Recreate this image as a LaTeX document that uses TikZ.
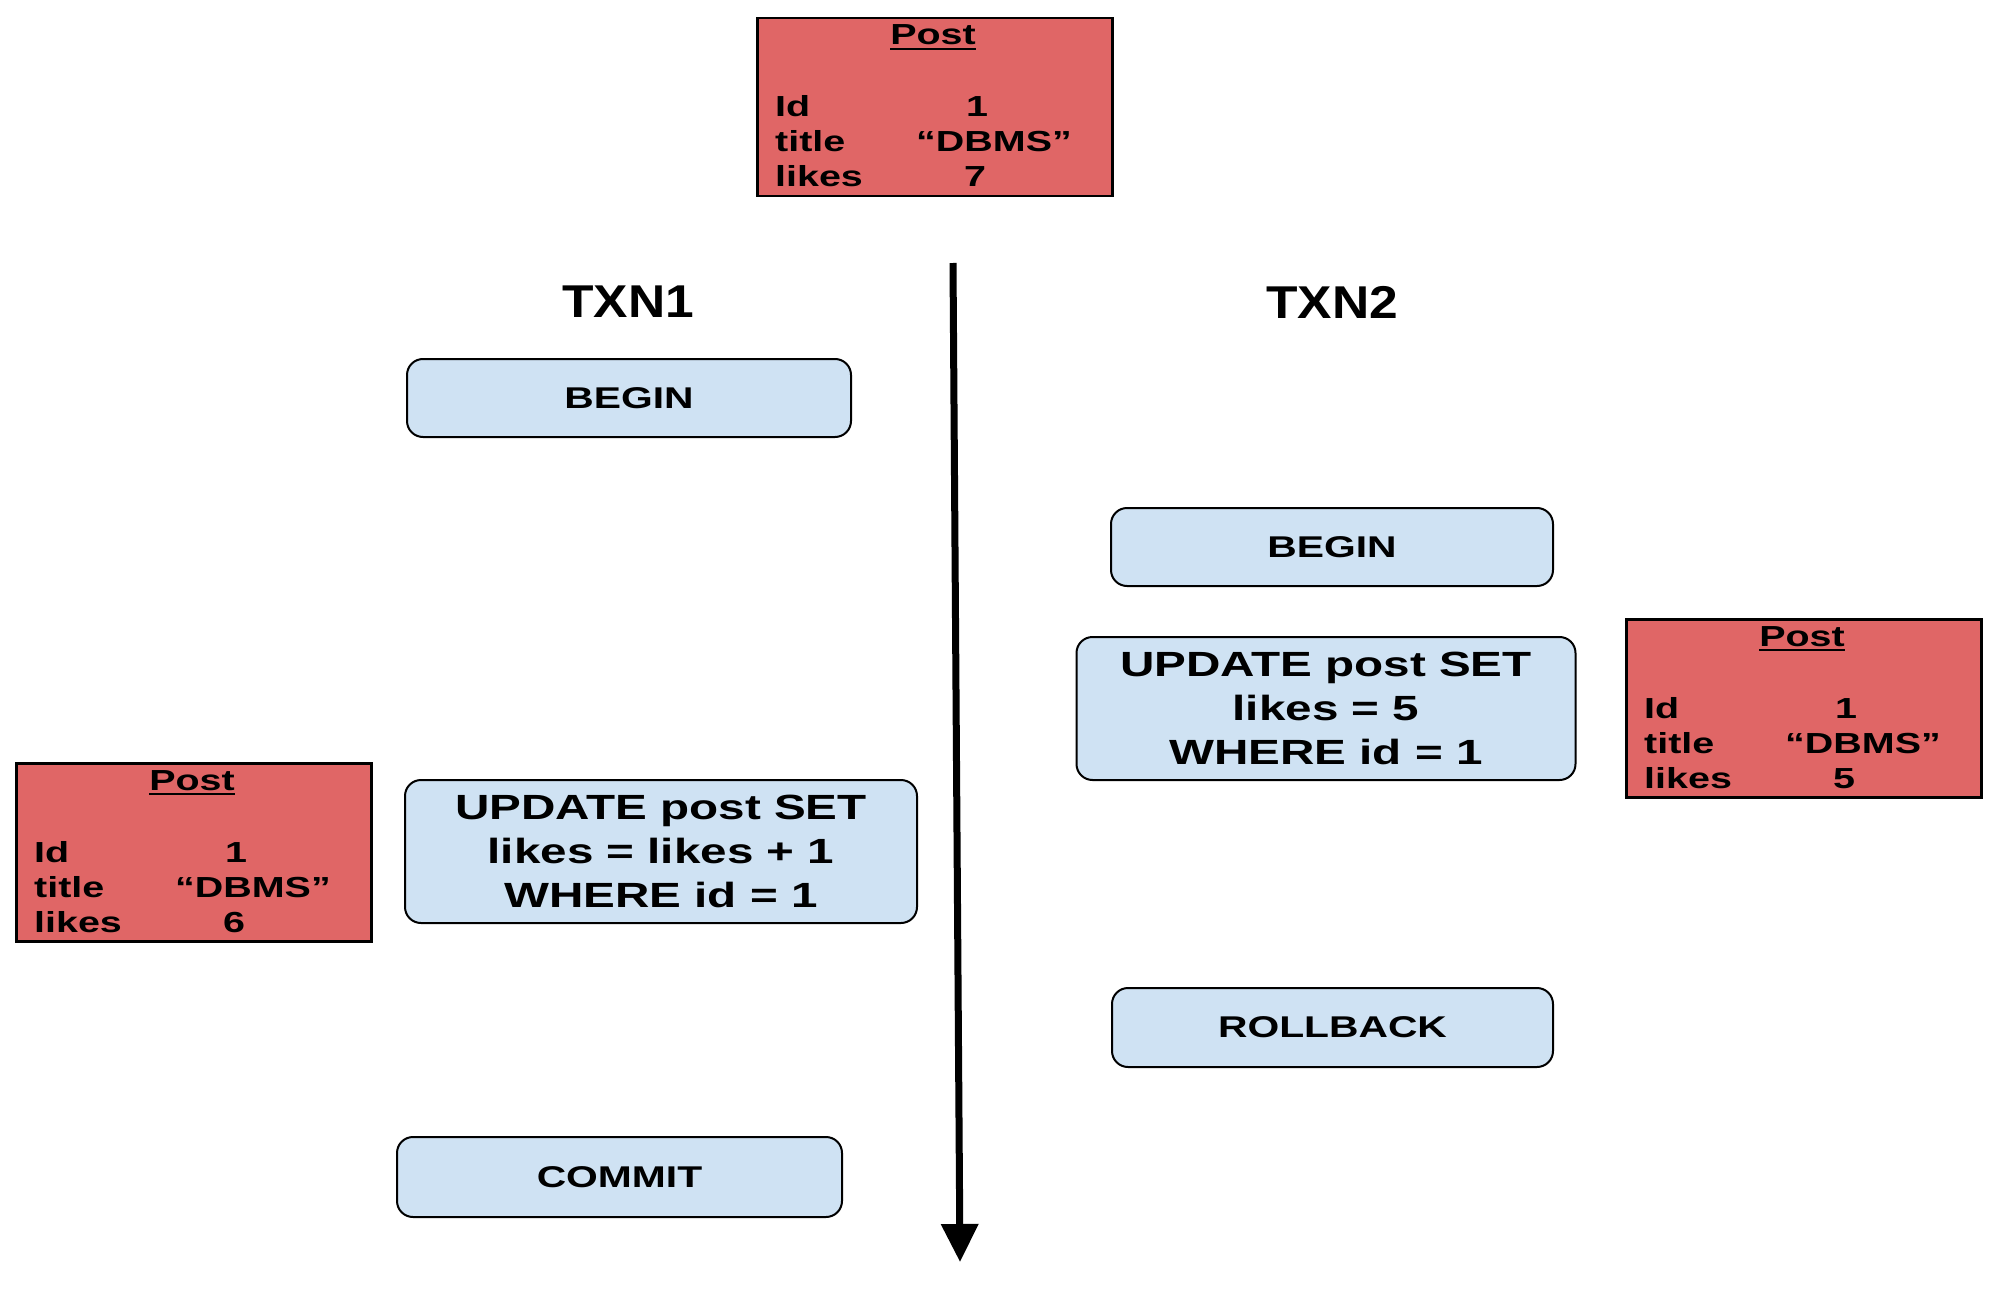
\documentclass[tikz,border=0pt]{standalone}
\usepackage{fontspec}
\usetikzlibrary{arrows.meta}
\newfontfamily\boxfont{Liberation Sans Bold}[FakeStretch=1.36]
\newfontfamily\hdfont{Liberation Sans Bold}[FakeStretch=1.12]
\definecolor{postred}{HTML}{E06666}
\definecolor{stepblue}{HTML}{CFE2F3}
\tikzset{
  postbox/.style={draw=black, line width=2.5pt, fill=postred, minimum width=355pt,
    minimum height=178pt, inner sep=0pt, anchor=north west},
  ptxt/.style={inner sep=0pt, font=\boxfont\fontsize{29}{34}\selectfont},
  stepbox/.style={draw=black, line width=2pt, fill=stepblue, rounded corners=16pt,
    inner sep=0pt, align=center, font=\boxfont\fontsize{30}{36}\selectfont},
  sqlbox/.style={stepbox, font=\boxfont\fontsize{35}{44}\selectfont},
  txnlabel/.style={inner sep=0pt, font=\hdfont\fontsize{46}{50}\selectfont},
  timeline/.style={line width=7pt, -{Triangle[width=36pt,length=38pt]}}
}
\newcommand\postbox[4]{%
  \node[postbox] (#1) at (#2,#3) {};
  \node[ptxt, anchor=base] (#1-h) at ([xshift=177pt,yshift=-28pt]#1.north west) {Post};
  \draw[line width=2.5pt] ([yshift=-4pt]#1-h.base west) -- ([yshift=-4pt]#1-h.base east);
  \node[ptxt, anchor=base west] (#1-k1) at ([xshift=19pt,yshift=-100pt]#1.north west) {Id};
  \node[ptxt, anchor=base west] (#1-k2) at ([xshift=19pt,yshift=-135pt]#1.north west) {title};
  \node[ptxt, anchor=base west] (#1-k3) at ([xshift=19pt,yshift=-170pt]#1.north west) {likes};
  \node[ptxt, anchor=base] (#1-v1) at ([xshift=221pt,yshift=-100pt]#1.north west) {1};
  \node[ptxt, anchor=base] (#1-v2) at ([xshift=238pt,yshift=-135pt]#1.north west) {“DBMS”};
  \node[ptxt, anchor=base] (#1-v3) at ([xshift=219pt,yshift=-170pt]#1.north west) {#4};
}
\begin{document}
\begin{tikzpicture}[x=1pt, y=-1pt]
  \useasboundingbox (0,0) rectangle (2000,1300);
  % Post records
  \postbox{ptop}{756}{17}{7}
  \postbox{pleft}{15}{762}{6}
  \postbox{pright}{1625}{618}{5}
  % transaction labels
  \node[txnlabel] (txn1) at (628,302) {TXN1};
  \node[txnlabel] (txn2) at (1332,302) {TXN2};
  % time axis
  \coordinate (tstart) at (953,263);
  \coordinate (tend) at (960,1262);
  \draw[timeline] (tstart) -- (tend);
  % TXN1 steps
  \node[stepbox, minimum width=444pt, minimum height=78pt] (begin1) at (629,398) {BEGIN};
  \node[sqlbox, minimum width=512pt, minimum height=143pt] (update1) at (661,851.5)
    {UPDATE post SET\\likes = likes + 1\\WHERE id = 1};
  \node[stepbox, minimum width=445pt, minimum height=80pt] (commit) at (619.5,1177) {COMMIT};
  % TXN2 steps
  \node[stepbox, minimum width=442pt, minimum height=78pt] (begin2) at (1332,547) {BEGIN};
  \node[sqlbox, minimum width=499pt, minimum height=143pt] (update2) at (1326,708.5)
    {UPDATE post SET\\likes = 5\\WHERE id = 1};
  \node[stepbox, minimum width=441pt, minimum height=79pt] (rollback) at (1332.5,1027.5) {ROLLBACK};
\end{tikzpicture}
\end{document}
